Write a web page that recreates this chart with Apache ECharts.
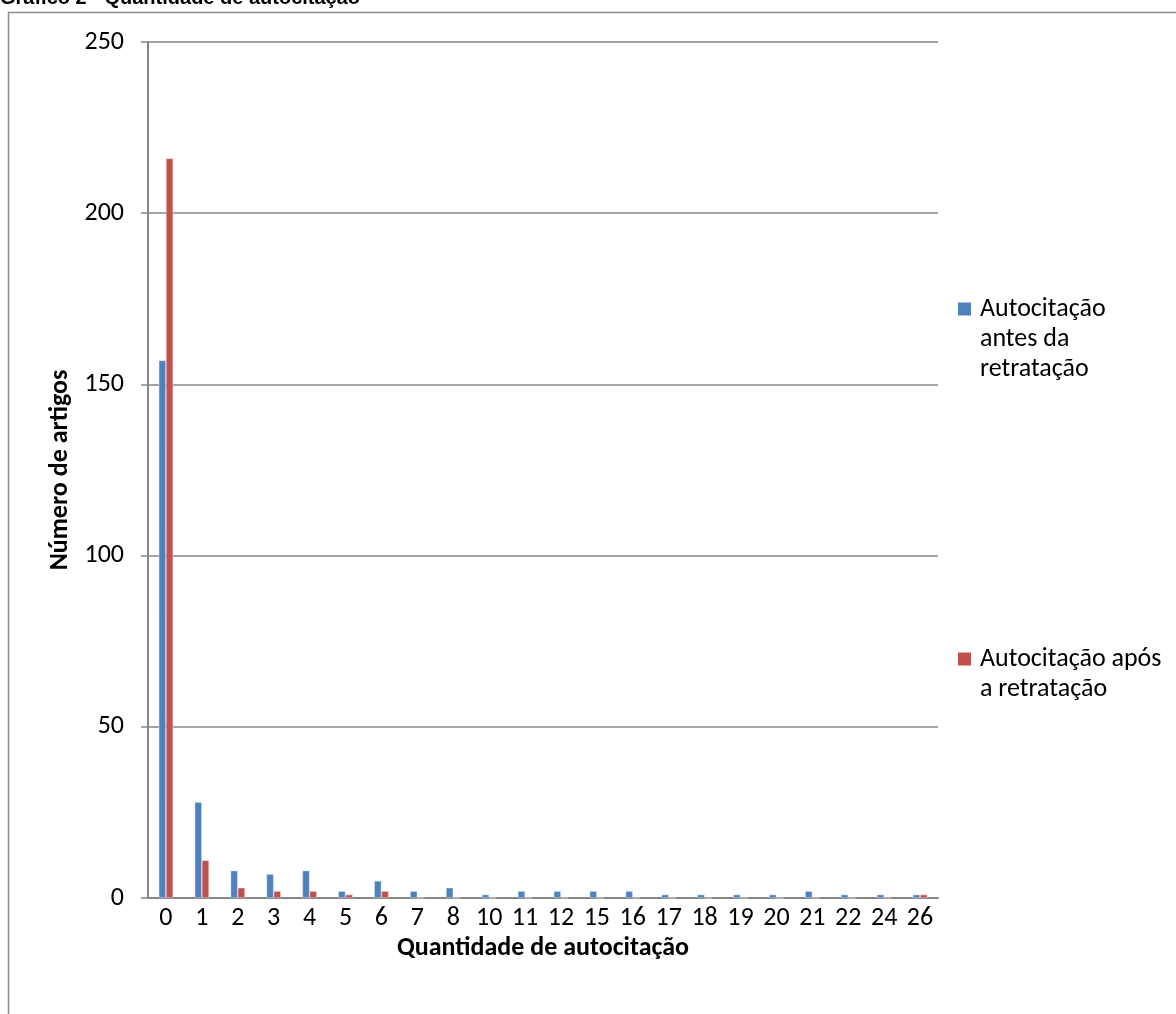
<!DOCTYPE html>
<html>
<head>
<meta charset="utf-8">
<style>
  html, body { margin: 0; padding: 0; background: #ffffff; }
  #chart { width: 1176px; height: 1014px; }
</style>
<script src="https://cdn.jsdelivr.net/npm/echarts@6/dist/echarts.min.js"></script>
</head>
<body>
<div id="chart"></div>
<script>
// Quantidade de autocitação (categorias do eixo X)
const categories = ['0', '1', '2', '3', '4', '5', '6', '7', '8', '10', '11', '12', '15', '16', '17', '18', '19', '20', '21', '22', '24', '26'];
// Número de artigos por quantidade de autocitação
const antesRetratacao = [157, 28, 8, 7, 8, 2, 5, 2, 3, 1, 2, 2, 2, 2, 1, 1, 1, 1, 2, 1, 1, 1];
const aposRetratacao  = [216, 11, 3, 2, 2, 1, 2, 0, 0, 0, 0, 0, 0, 0, 0, 0, 0, 0, 0, 0, 0, 1];
const yTicks = { min: 0, max: 250, interval: 50 };

const seriesNames = ['Autocitação antes da retratação', 'Autocitação após a retratação'];
const seriesColors = ['#4F81BD', '#C0504D'];
// Legend text broken over lines, square swatch on the first line only
const legendLines = {
  'Autocitação antes da retratação': ['Autocitação', 'antes da', 'retratação'],
  'Autocitação após a retratação': ['Autocitação após', 'a retratação']
};
const FONT = 'Carlito, Lato, "Open Sans", sans-serif';

const chart = echarts.init(document.getElementById('chart'), null, { renderer: 'canvas' });

chart.setOption({
  animation: false,
  backgroundColor: '#ffffff',
  textStyle: { fontFamily: FONT },
  graphic: [
    {
      type: 'rect',
      shape: { x: 8.5, y: 12.5, width: 1200, height: 1100 },
      style: { fill: 'none', stroke: '#8c8c8c', lineWidth: 1.5 },
      silent: true
    },
    {
      type: 'text',
      left: 0,
      top: -12,
      style: {
        text: 'Gráfico 2 - Quantidade de autocitação',
        font: 'bold 20px "Liberation Sans", Arial, sans-serif',
        fill: '#000000'
      },
      silent: true
    }
  ],
  grid: { left: 148, right: 238, top: 42, bottom: 116, containLabel: false },
  legend: {
    orient: 'vertical',
    left: 947,
    top: 289,
    itemWidth: 0,
    itemHeight: 0,
    itemGap: 260,
    icon: 'rect',
    itemStyle: { opacity: 0 },
    data: seriesNames,
    formatter: function (name) {
      const idx = seriesNames.indexOf(name);
      const lines = legendLines[name];
      return lines.map(function (l, i) {
        return (i === 0 ? '{sw' + idx + '|}{gap|}' : '{pad|}') + '{t|' + l + '}';
      }).join('\n');
    },
    textStyle: {
      fontFamily: FONT,
      fontSize: 26,
      color: '#000000',
      lineHeight: 30,
      rich: {
        sw0: { width: 13, height: 13, backgroundColor: seriesColors[0] },
        sw1: { width: 13, height: 13, backgroundColor: seriesColors[1] },
        gap: { width: 9 },
        pad: { width: 22 },
        t: { fontFamily: FONT, fontSize: 26, color: '#000000', lineHeight: 30 }
      }
    }
  },
  xAxis: {
    type: 'category',
    data: categories,
    name: 'Quantidade de autocitação',
    nameLocation: 'middle',
    nameGap: 34,
    nameTextStyle: { fontFamily: FONT, fontSize: 26, fontWeight: 'bold', color: '#000000' },
    axisLine: { lineStyle: { color: '#868686', width: 2 } },
    axisTick: { show: false },
    axisLabel: { fontFamily: FONT, fontSize: 26, color: '#000000', margin: 7, interval: 0 }
  },
  yAxis: {
    type: 'value',
    min: yTicks.min,
    max: yTicks.max,
    interval: yTicks.interval,
    name: 'Número de artigos',
    nameLocation: 'middle',
    nameGap: 70,
    nameRotate: 90,
    nameTextStyle: { fontFamily: FONT, fontSize: 26, fontWeight: 'bold', color: '#000000' },
    axisLine: { show: true, lineStyle: { color: '#868686', width: 2 } },
    axisTick: { show: true, length: 7, lineStyle: { color: '#868686', width: 1.5 } },
    axisLabel: { fontFamily: FONT, fontSize: 26, color: '#000000', margin: 24 },
    splitLine: { show: true, lineStyle: { color: '#868686', width: 1.5 } }
  },
  series: [
    {
      name: seriesNames[0],
      type: 'bar',
      data: antesRetratacao,
      barWidth: 7.2,
      barGap: '0%',
      itemStyle: { color: seriesColors[0], borderColor: 'rgba(220,230,242,0.8)', borderWidth: 0.6 }
    },
    {
      name: seriesNames[1],
      type: 'bar',
      data: aposRetratacao,
      barWidth: 7.2,
      barGap: '0%',
      itemStyle: { color: seriesColors[1], borderColor: 'rgba(242,220,219,0.8)', borderWidth: 0.6 }
    }
  ]
});
</script>
</body>
</html>
